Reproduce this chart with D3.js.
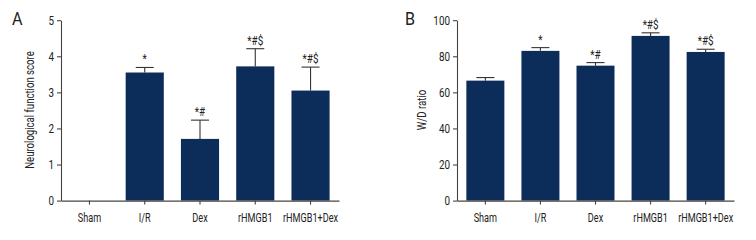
<!DOCTYPE html>
<html><head><meta charset="utf-8">
<script src="https://cdn.jsdelivr.net/npm/d3@7/dist/d3.min.js"></script>
<style>
body{margin:0;background:#fff;}
svg text{font-family:Roboto,"Liberation Sans",sans-serif;fill:#222;}
</style></head>
<body><svg id="c" width="756" height="240"></svg>
<script>
const categories = ["Sham","I/R","Dex","rHMGB1","rHMGB1+Dex"];
const scoreValues = [0, 3.55, 1.71, 3.72, 3.05];
const scoreErrTop = [0, 3.69, 2.23, 4.21, 3.70];
const scoreMarks = ["", "*", "*#", "*#$", "*#$"];
const scoreTicks = [0,1,2,3,4,5];
const wdValues = [66.5, 83.0, 74.8, 91.3, 82.4];
const wdErrTop = [68.2, 84.8, 76.5, 93.0, 83.9];
const wdMarks = ["", "*", "*#", "*#$", "*#$"];
const wdTicks = [0,20,40,60,80,100];

const svg = d3.select("#c");
const barColor = "#0c2d5a";
const axisColor = "#444";
const K = 0.76;

function condense(sel, k){
  sel.each(function(){
    const t = d3.select(this);
    const x = +(t.attr("x")||0);
    t.attr("transform", `translate(${x*(1-k)},0) scale(${k},1)`);
  });
}

function panel(opt){
  const g = svg.append("g");
  const x = d3.scaleBand().domain(categories).range([opt.x0, opt.x1]).paddingInner(0.31).paddingOuter(0.17);
  const y = d3.scaleLinear().domain([0, opt.max]).range([200.6, 20.2]);
  g.selectAll("rect.bar").data(categories).join("rect")
    .attr("x", d=>x(d)).attr("width", x.bandwidth())
    .attr("y", (d,i)=>y(opt.values[i])).attr("height",(d,i)=>y(0)-y(opt.values[i]))
    .attr("fill", barColor);
  categories.forEach((c,i)=>{
    if(opt.values[i]<=0) return;
    const cx = x(c)+x.bandwidth()/2;
    g.append("line").attr("x1",cx).attr("x2",cx).attr("y1",y(opt.values[i])).attr("y2",y(opt.errTop[i]))
      .attr("stroke","#333").attr("stroke-width",1.1);
    g.append("line").attr("x1",cx-9).attr("x2",cx+9).attr("y1",y(opt.errTop[i])).attr("y2",y(opt.errTop[i]))
      .attr("stroke","#333").attr("stroke-width",1.1);
    if(opt.marks[i]) g.append("text").attr("x",cx).attr("y",y(opt.errTop[i])-4)
      .attr("text-anchor","middle").attr("font-size",13).text(opt.marks[i]).call(condense, K);
  });
  const ya = g.append("g").attr("transform",`translate(${opt.x0},0)`)
    .call(d3.axisLeft(y).tickValues(opt.ticks).tickFormat(d3.format("d")).tickSize(4).tickSizeOuter(0).tickPadding(3));
  const xa = g.append("g").attr("transform",`translate(0,${y(0)})`)
    .call(d3.axisBottom(x).tickSize(4).tickSizeOuter(0).tickPadding(9));
  [ya,xa].forEach(a=>{
    a.selectAll("path,line").attr("stroke",axisColor).attr("stroke-width",1.1);
    a.selectAll("text").attr("font-size",12).style("font-family","Roboto,sans-serif").attr("fill","#222").call(condense, K);
  });
  ya.selectAll("text").attr("font-size",13);
  g.append("text").attr("transform",`translate(${opt.titleX},110) rotate(-90) scale(${K+0.04},1)`)
    .attr("text-anchor","middle").attr("font-size",12).text(opt.title);
  g.append("text").attr("x",0).attr("y",0).attr("transform",`translate(${opt.labelX},25) scale(0.85,1)`)
    .attr("font-size",19).text(opt.label);
}

panel({x0:61, x1:339, max:5, values:scoreValues, errTop:scoreErrTop, marks:scoreMarks, ticks:scoreTicks,
  title:"Neurological function score", titleX:34, label:"A", labelX:12});
panel({x0:457, x1:734, max:100, values:wdValues, errTop:wdErrTop, marks:wdMarks, ticks:wdTicks,
  title:"W/D ratio", titleX:426, label:"B", labelX:405});
</script></body></html>
